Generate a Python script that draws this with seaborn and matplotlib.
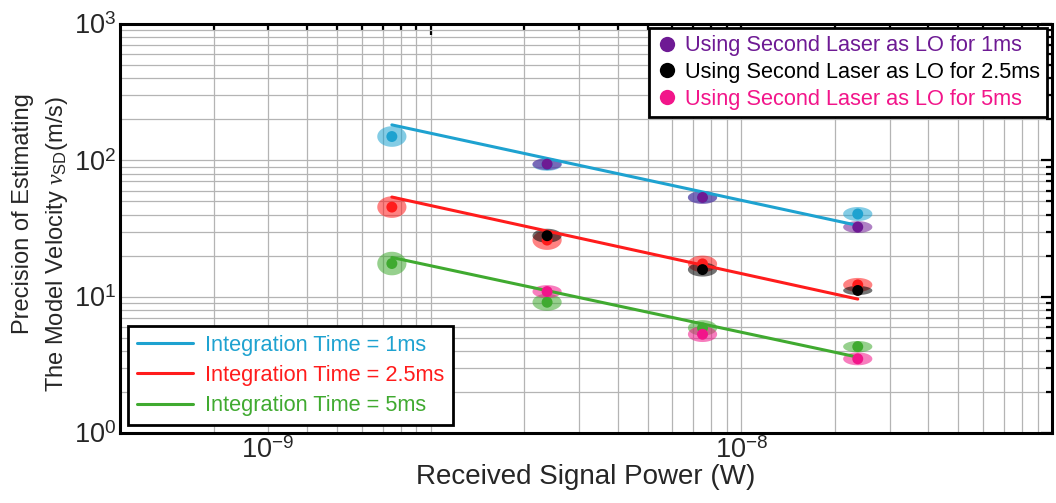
import numpy as np
import pandas as pd
import matplotlib
matplotlib.use("Agg")
import matplotlib.pyplot as plt
import matplotlib.transforms as mtransforms
from matplotlib.lines import Line2D
from matplotlib.ticker import LogLocator, NullFormatter, FixedLocator, FixedFormatter
import seaborn as sns

# ---- data -------------------------------------------------------------
power_w = [7.5e-10, 2.37e-9, 7.5e-9, 2.37e-8]

# measured precision (m/s) for each integration time
int_1ms = [149.5, 93.0, 53.5, 40.4]
int_2p5ms = [45.4, 26.0, 17.4, 12.2]
int_5ms = [17.5, 9.1, 5.9, 4.3]

# measured precision (m/s) using the second laser as LO
lo_1ms = [np.nan, 93.8, 53.4, 32.4]
lo_2p5ms = [np.nan, 28.0, 15.8, 11.1]
lo_5ms = [np.nan, 10.9, 5.3, 3.5]

# spread of each measurement (ratio of upper bound to value)
int_1ms_spread = [1.19, 1.11, 1.11, 1.125]
int_2p5ms_spread = [1.20, 1.18, 1.15, 1.125]
int_5ms_spread = [1.22, 1.155, 1.14, 1.10]
lo_1ms_spread = [np.nan, 1.105, 1.115, 1.105]
lo_2p5ms_spread = [np.nan, 1.125, 1.125, 1.08]
lo_5ms_spread = [np.nan, 1.115, 1.14, 1.115]

# trend lines, values at the lowest and highest received power
fit_power = [7.5e-10, 2.37e-8]
fit_1ms = [182.0, 33.3]
fit_2p5ms = [53.8, 9.6]
fit_5ms = [19.4, 3.6]

int_labels = ["Integration Time = 1ms", "Integration Time = 2.5ms", "Integration Time = 5ms"]
lo_labels = ["Using Second Laser as LO for 1ms", "Using Second Laser as LO for 2.5ms",
             "Using Second Laser as LO for 5ms"]

x_ticks = [1e-9, 1e-8]
x_tick_labels = [r"$10^{-9}$", r"$10^{-8}$"]
y_ticks = [1, 10, 100, 1000]
y_tick_labels = [r"$10^{0}$", r"$10^{1}$", r"$10^{2}$", r"$10^{3}$"]

# ---- styling ----------------------------------------------------------
sns.set_theme(style="white")
plt.rcParams["font.family"] = ["Liberation Sans", "DejaVu Sans"]
plt.rcParams["mathtext.fontset"] = "custom"
plt.rcParams["mathtext.rm"] = "Liberation Sans"
plt.rcParams["mathtext.it"] = "Liberation Serif:italic"
plt.rcParams["mathtext.bf"] = "Liberation Sans:bold"

int_colors = ["#1ea2d0", "#ff1c1c", "#40aa30"]
lo_colors = ["#6e1a94", "#000000", "#f2158a"]

fig = plt.figure(figsize=(10.56, 5.03), dpi=100)
ax = fig.add_axes([120 / 1056, 1 - 433 / 503, 932 / 1056, 409 / 503])
ax.set_xscale("log")
ax.set_yscale("log")
ax.set_xlim(1e-10, 1e-7)
ax.set_ylim(1, 1000)

# ---- uncertainty ellipses (drawn in log space) --------------------------
half_w = 0.047  # half width in decades of power
t = np.linspace(0, 2 * np.pi, 120)


def draw_ellipses(values, spreads, color, z):
    for p, v, s in zip(power_w, values, spreads):
        if np.isnan(v):
            continue
        lx = np.log10(p) + half_w * np.cos(t)
        ly = np.log10(v) + np.log10(s) * np.sin(t)
        ax.fill(10 ** lx, 10 ** ly, color=color, alpha=0.55, lw=0, zorder=z)


for vals, spr, c in zip([int_1ms, int_2p5ms, int_5ms],
                        [int_1ms_spread, int_2p5ms_spread, int_5ms_spread], int_colors):
    draw_ellipses(vals, spr, c, 2)
for vals, spr, c in zip([lo_1ms, lo_2p5ms, lo_5ms],
                        [lo_1ms_spread, lo_2p5ms_spread, lo_5ms_spread], lo_colors):
    draw_ellipses(vals, spr, c, 2.5)

# ---- trend lines -------------------------------------------------------
fit_df = pd.DataFrame({
    "power": fit_power * 3,
    "precision": fit_1ms + fit_2p5ms + fit_5ms,
    "series": [lab for lab in int_labels for _ in fit_power],
})
sns.lineplot(data=fit_df, x="power", y="precision", hue="series", hue_order=int_labels,
             palette=int_colors, linewidth=2.2, legend=False, ax=ax, zorder=3)

# ---- measurement points ------------------------------------------------
pts = []
for lab, vals in zip(int_labels + lo_labels, [int_1ms, int_2p5ms, int_5ms, lo_1ms, lo_2p5ms, lo_5ms]):
    for p, v in zip(power_w, vals):
        if not np.isnan(v):
            pts.append({"power": p, "precision": v, "series": lab})
pts_df = pd.DataFrame(pts)
sns.scatterplot(data=pts_df, x="power", y="precision", hue="series",
                hue_order=int_labels + lo_labels, palette=int_colors + lo_colors,
                s=62, edgecolor="none", legend=False, ax=ax, zorder=4)

# ---- axes --------------------------------------------------------------
ax.xaxis.set_major_locator(FixedLocator(x_ticks))
ax.xaxis.set_major_formatter(FixedFormatter(x_tick_labels))
ax.xaxis.set_minor_locator(LogLocator(base=10, subs=np.arange(2, 10)))
ax.xaxis.set_minor_formatter(NullFormatter())
ax.yaxis.set_major_locator(FixedLocator(y_ticks))
ax.yaxis.set_major_formatter(FixedFormatter(y_tick_labels))
ax.yaxis.set_minor_locator(LogLocator(base=10, subs=np.arange(2, 10)))
ax.yaxis.set_minor_formatter(NullFormatter())

ax.grid(True, which="both", color="#b4b4b4", linewidth=0.9, zorder=0)
ax.set_axisbelow(True)
ax.tick_params(which="both", direction="in", top=True, right=True, color="black",
               width=1.6)
ax.tick_params(which="major", length=8, labelsize=19.5)
ax.tick_params(axis="x", which="major", pad=3)
ax.tick_params(axis="y", which="major", pad=3)
ax.tick_params(which="minor", length=4)
for sp in ax.spines.values():
    sp.set_color("black")
    sp.set_linewidth(2.2)

# the lower decade label sits to the left of its tick
xlabs = ax.get_xticklabels()
xlabs[0].set_transform(xlabs[0].get_transform() +
                       mtransforms.ScaledTranslation(-1.63, 0, fig.dpi_scale_trans))

ax.set_xlabel("Received Signal Power (W)", fontsize=20, labelpad=0)

# two-line y-axis title: first line as free text, second as the axis label
fig.text(23 / 1056, 1 - 214 / 503, "Precision of Estimating", rotation=90,
         ha="center", va="center", fontsize=17)
ax.set_ylabel("The Model Velocity $\\mathit{v}_{\\mathrm{SD}}$(m/s)", fontsize=17)
ax.yaxis.set_label_coords(-0.054, (433 - 244) / 409)

# ---- legends -----------------------------------------------------------
lo_handles = [Line2D([], [], linestyle="none", marker="o", markersize=11,
                     markerfacecolor=c, markeredgecolor="none", label=l)
              for c, l in zip(lo_colors, lo_labels)]
leg1 = ax.legend(handles=lo_handles, loc="upper right", bbox_to_anchor=(0.995, 0.99),
                 borderaxespad=0, fontsize=15.7, frameon=True, fancybox=False,
                 framealpha=1, edgecolor="black", handletextpad=0.35,
                 labelspacing=0.26, borderpad=0.33, handlelength=1.0)
leg1.get_frame().set_linewidth(2)
for txt, c in zip(leg1.get_texts(), lo_colors):
    txt.set_color(c)
ax.add_artist(leg1)

int_handles = [Line2D([], [], color=c, linewidth=2.2, label=l)
               for c, l in zip(int_colors, int_labels)]
leg2 = ax.legend(handles=int_handles, loc="lower left", bbox_to_anchor=(0.0086, 0.0196),
                 borderaxespad=0, fontsize=15.7, frameon=True, fancybox=False,
                 framealpha=1, edgecolor="black", handletextpad=0.55,
                 labelspacing=0.42, borderpad=0.4, handlelength=2.6)
leg2.get_frame().set_linewidth(2)
for txt, c in zip(leg2.get_texts(), int_colors):
    txt.set_color(c)

fig.savefig("out.png", dpi=100)
